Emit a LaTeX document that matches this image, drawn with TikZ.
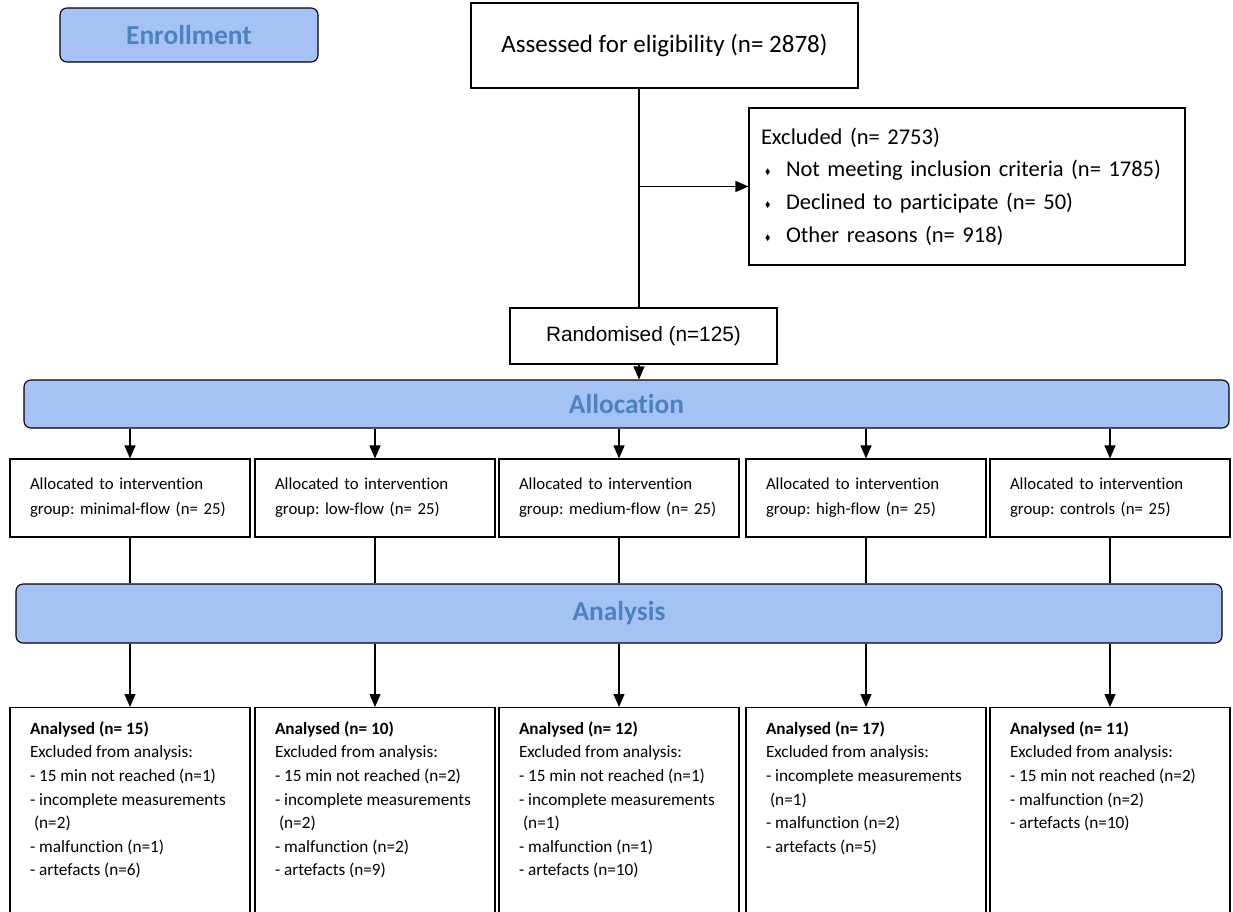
\documentclass[tikz,border=0pt]{standalone}
\usepackage{fontspec}
\setmainfont{Carlito}[Ligatures=NoCommon]
\newfontfamily\arialfont{Liberation Sans}
\usepackage{amssymb}
\usetikzlibrary{arrows.meta, positioning, calc}

\definecolor{barblue}{RGB}{164,194,244}
\definecolor{headblue}{RGB}{79,129,189}
\newcommand{\bul}{\makebox[25pt][l]{\hspace{4pt}\raisebox{2pt}{\fontsize{8}{8}\selectfont$\blacklozenge$}}}
\frenchspacing

\begin{document}
\begin{tikzpicture}[
  x=1pt, y=-1pt,
  % --- styles ------------------------------------------------------------
  box/.style={
    rectangle, draw, line width=1.1pt, fill=white,
    font=\fontsize{25}{32.6}\selectfont, align=center
  },
  bar/.style={
    rectangle, draw, line width=1.1pt, rounded corners=7pt,
    fill=barblue, text=headblue, font=\fontsize{27.4}{27.4}\selectfont\bfseries
  },
  grp/.style={
    rectangle, draw, line width=1.1pt, minimum height=78pt,
    inner xsep=20pt, text width=200pt, align=left,
    font=\fontsize{16.8}{25}\selectfont
  },
  res/.style={
    rectangle, draw, line width=1.1pt, anchor=north,
    inner xsep=20pt, inner ysep=14pt,
    font=\fontsize{17.2}{23.6}\selectfont
  },
  flow/.style={-{Triangle[length=13pt, width=11pt]}, line width=1.1pt},
  link/.style={line width=1.1pt}
]
\useasboundingbox (0,0) rectangle (1233,911);
\clip (0,0) rectangle (1233,911);

% --------------------- enrollment ---------------------------------------
\node[bar, minimum width=258pt, minimum height=54pt] (enrol) at (189,35) {Enrollment};

\node[box, minimum width=387pt, minimum height=85pt] (assess) at (664.5,45.5)
     {Assessed for eligibility (n= 2878)};
\node[box, font=\fontsize{22.5}{32.6}\selectfont, align=left, text width=412pt,
      inner xsep=12pt, minimum height=157pt] (excl) at (967,186.5)
     {Excluded (n= 2753)\\
      \bul Not meeting inclusion criteria (n= 1785)\\
      \bul Declined to participate (n= 50)\\
      \bul Other reasons (n= 918)};
\node[box, font=\fontsize{20.8}{25}\arialfont, minimum width=267pt,
      minimum height=56pt] (rand) at (643.5,336)
     {Randomised (n=125)};

\coordinate (trunk) at (639,0);
\draw[link] (assess.south -| trunk) -- (rand.north -| trunk);
\draw[flow] (excl.west -| trunk) -- (excl.west);

% --------------------- allocation ---------------------------------------
\node[bar, minimum width=1205pt, minimum height=48pt] (alloc) at (626.5,404) {Allocation};
\draw[flow] (rand.south -| trunk) -- (alloc.north -| trunk);

\node[grp] (g1) at (130,498)  {Allocated to intervention\\group: minimal-flow (n= 25)};
\node[grp] (g2) at (375,498)  {Allocated to intervention\\group: low-flow (n= 25)};
\node[grp] (g3) at (619,498)  {Allocated to intervention\\group: medium-flow (n= 25)};
\node[grp] (g4) at (866,498)  {Allocated to intervention\\group: high-flow (n= 25)};
\node[grp] (g5) at (1110,498) {Allocated to intervention\\group: controls (n= 25)};

\draw[flow] (alloc.south -| g1) -- (g1);
\draw[flow] (alloc.south -| g2) -- (g2);
\draw[flow] (alloc.south -| g3) -- (g3);
\draw[flow] (alloc.south -| g4) -- (g4);
\draw[flow] (alloc.south -| g5) -- (g5);

% --------------------- analysis -----------------------------------------
\node[bar, minimum width=1206pt, minimum height=59pt] (anal) at (619,613.5) {Analysis};

\draw[link] (g1) -- (anal.north -| g1);
\draw[link] (g2) -- (anal.north -| g2);
\draw[link] (g3) -- (anal.north -| g3);
\draw[link] (g4) -- (anal.north -| g4);
\draw[link] (g5) -- (anal.north -| g5);

\node[res] (r1) at (130,707) {\parbox[t][215pt][t]{200pt}{\textbf{Analysed (n= 15)}\\
  Excluded from analysis:\\
  - 15 min not reached (n=1)\\
  - incomplete measurements\\
  \hspace*{4pt}(n=2)\\
  - malfunction (n=1)\\
  - artefacts (n=6)}};
\node[res] (r2) at (375,707) {\parbox[t][215pt][t]{200pt}{\textbf{Analysed (n= 10)}\\
  Excluded from analysis:\\
  - 15 min not reached (n=2)\\
  - incomplete measurements\\
  \hspace*{4pt}(n=2)\\
  - malfunction (n=2)\\
  - artefacts (n=9)}};
\node[res] (r3) at (619,707) {\parbox[t][215pt][t]{200pt}{\textbf{Analysed (n= 12)}\\
  Excluded from analysis:\\
  - 15 min not reached (n=1)\\
  - incomplete measurements\\
  \hspace*{4pt}(n=1)\\
  - malfunction (n=1)\\
  - artefacts (n=10)}};
\node[res] (r4) at (866,707) {\parbox[t][215pt][t]{200pt}{\textbf{Analysed (n= 17)}\\
  Excluded from analysis:\\
  - incomplete measurements\\
  \hspace*{4pt}(n=1)\\
  - malfunction (n=2)\\
  - artefacts (n=5)}};
\node[res] (r5) at (1110,707) {\parbox[t][215pt][t]{200pt}{\textbf{Analysed (n= 11)}\\
  Excluded from analysis:\\
  - 15 min not reached (n=2)\\
  - malfunction (n=2)\\
  - artefacts (n=10)}};

\draw[flow] (anal.south -| r1) -- (r1);
\draw[flow] (anal.south -| r2) -- (r2);
\draw[flow] (anal.south -| r3) -- (r3);
\draw[flow] (anal.south -| r4) -- (r4);
\draw[flow] (anal.south -| r5) -- (r5);

\end{tikzpicture}
\end{document}
